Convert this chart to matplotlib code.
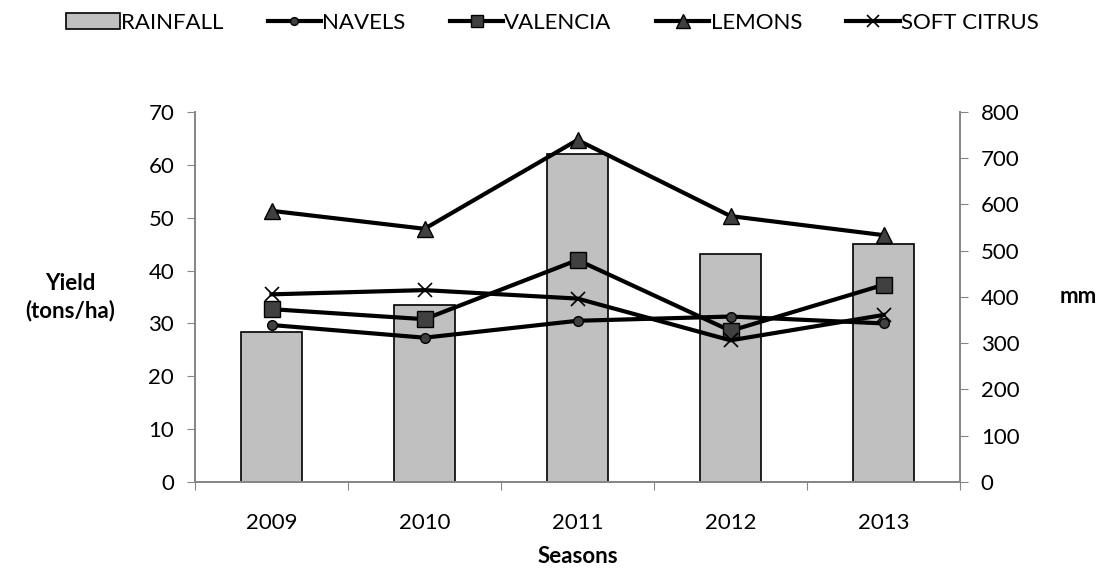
import matplotlib.pyplot as plt
import numpy as np

plt.rcParams['font.family'] = ['Lato', 'DejaVu Sans']

# Seasons and values
seasons = ['2009', '2010', '2011', '2012', '2013']
rainfall = [325, 383, 710, 493, 515]          # mm (right axis)
navels = [29.7, 27.3, 30.5, 31.3, 30.0]       # tons/ha
valencia = [32.7, 30.8, 42.0, 28.6, 37.3]
lemons = [51.3, 47.9, 64.7, 50.3, 46.7]
soft_citrus = [35.5, 36.3, 34.7, 26.8, 31.6]

fig = plt.figure(figsize=(11.05, 5.69), dpi=100)
ax = fig.add_axes([0.1765, 0.1529, 0.6923, 0.6503])
ax2 = ax.twinx()

x = np.arange(len(seasons))
gray = '#868686'
fs = 16

# Bars (rainfall) on the right-hand axis
bars = ax2.bar(x, rainfall, width=0.4, color='#C0C0C0', edgecolor='black',
               linewidth=1.2, label='RAINFALL')

# Lines on the left-hand axis, drawn above the bars
ax.set_zorder(ax2.get_zorder() + 1)
ax.patch.set_visible(False)
mfc = '#404040'
l1, = ax.plot(x, navels, color='black', lw=3, marker='o', ms=7, mfc=mfc,
              mec='black', mew=1, label='NAVELS')
l2, = ax.plot(x, valencia, color='black', lw=3, marker='s', ms=11, mfc=mfc,
              mec='black', mew=1, label='VALENCIA')
l3, = ax.plot(x, lemons, color='black', lw=3, marker='^', ms=12, mfc=mfc,
              mec='black', mew=1, label='LEMONS')
l4, = ax.plot(x, soft_citrus, color='black', lw=3, marker='x', ms=10,
              mec='black', mew=1.2, label='SOFT CITRUS')

ax.set_xlim(-0.5, 4.5)
ax.set_ylim(0, 70)
ax.set_yticks(range(0, 71, 10))
ax2.set_ylim(0, 800)
ax2.set_yticks(range(0, 801, 100))

# x ticks between categories, labels centred
ax.set_xticks(np.arange(-0.5, 5, 1))
ax.set_xticklabels([])
ax.set_xticks(x, minor=True)
ax.set_xticklabels(seasons, minor=True)
ax.tick_params(axis='x', which='minor', length=0, pad=22, labelsize=fs)
ax.tick_params(axis='x', which='major', length=6, color=gray, direction='out')
ax.tick_params(axis='y', length=6, color=gray, labelsize=fs, pad=9)
ax2.tick_params(axis='y', length=6, color=gray, labelsize=fs, pad=9)

for a in (ax, ax2):
    a.spines['top'].set_visible(False)
    for s in ('left', 'right', 'bottom'):
        a.spines[s].set_color(gray)
        a.spines[s].set_linewidth(1.3)

ax.set_xlabel('Seasons', fontsize=fs, fontweight='bold', labelpad=10)
ax.set_ylabel('Yield\n(tons/ha)', fontsize=fs, fontweight='bold',
              rotation=0, ha='center', va='center', linespacing=1.3)
ax.yaxis.set_label_coords(-0.163, 0.5)
ax2.set_ylabel('mm', fontsize=fs, fontweight='bold', rotation=0,
               ha='center', va='center')
ax2.yaxis.set_label_coords(1.155, 0.5)

fig.legend([bars, l1, l2, l3, l4],
           ['RAINFALL', 'NAVELS', 'VALENCIA', 'LEMONS', 'SOFT CITRUS'],
           loc='center', bbox_to_anchor=(0.5, 0.96), ncol=5, frameon=False,
           fontsize=fs, handlelength=2.4, handletextpad=0.05,
           columnspacing=2.0, markerscale=0.8)

fig.savefig('out.png', dpi=100)
